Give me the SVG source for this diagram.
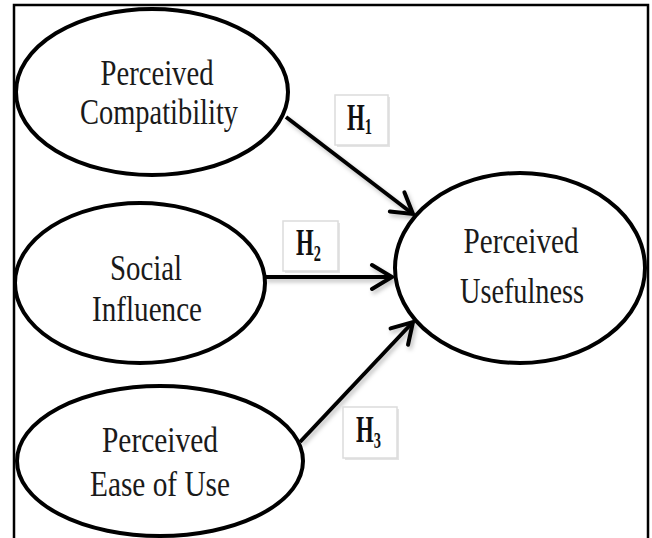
<svg xmlns="http://www.w3.org/2000/svg" width="652" height="538" viewBox="0 0 652 538">
  <style>
    .node { fill: #ffffff; stroke: #000000; stroke-width: 4; }
    .label { font-family: "Liberation Serif", "Times New Roman", serif; font-size: 35px; fill: #1a1a1a; text-anchor: middle; }
    .hyp { font-family: "Liberation Serif", "Times New Roman", serif; font-weight: bold; font-size: 38px; fill: #111111; }
    .sub { font-size: 24px; }
    .box { fill: #ffffff; stroke: #dcdcdc; stroke-width: 1.5; }
    .box-shadow { fill: #e4e4e4; }
    .edge { stroke: #000000; stroke-width: 4; fill: none; marker-end: url(#chevron); }
    .frame { fill: none; stroke: #000000; stroke-width: 2.5; }
  </style>
  <defs>
    <marker id="chevron" viewBox="0 0 26 30" refX="23" refY="15" markerWidth="26" markerHeight="30" markerUnits="userSpaceOnUse" orient="auto">
      <path d="M3,3 L23,15 L3,27" fill="none" stroke="#000000" stroke-width="4" stroke-linecap="round" stroke-linejoin="miter"/>
    </marker>
    <filter id="soft" x="-10%" y="-10%" width="130%" height="140%">
      <feDropShadow dx="2" dy="3" stdDeviation="2" flood-color="#000000" flood-opacity="0.25"/>
    </filter>
  </defs>

  <rect width="652" height="538" fill="#ffffff"/>

  <!-- outer frame, open at the bottom -->
  <path class="frame" d="M14,538 L14,5 L648,5 L648,538"/>

  <!-- hypothesis paths -->
  <g id="connectors" filter="url(#soft)">
    <line class="edge" x1="286" y1="117" x2="413" y2="214"/>
    <line class="edge" x1="264" y1="277" x2="392" y2="277"/>
    <line class="edge" x1="300" y1="442" x2="413" y2="322"/>
  </g>

  <g id="node-compatibility">
    <ellipse class="node" cx="152" cy="92" rx="136" ry="83"/>
    <text class="label" x="157" y="85" textLength="113" lengthAdjust="spacingAndGlyphs">Perceived</text>
    <text class="label" x="159" y="124" textLength="158" lengthAdjust="spacingAndGlyphs">Compatibility</text>
  </g>

  <g id="node-social">
    <ellipse class="node" cx="140" cy="283" rx="125" ry="80"/>
    <text class="label" x="146" y="280" textLength="72" lengthAdjust="spacingAndGlyphs">Social</text>
    <text class="label" x="147" y="321" textLength="110" lengthAdjust="spacingAndGlyphs">Influence</text>
  </g>

  <g id="node-ease">
    <ellipse class="node" cx="160" cy="461" rx="143" ry="75"/>
    <text class="label" x="160" y="452" textLength="116" lengthAdjust="spacingAndGlyphs">Perceived</text>
    <text class="label" x="160" y="496" textLength="140" lengthAdjust="spacingAndGlyphs">Ease of Use</text>
  </g>

  <g id="node-usefulness">
    <ellipse class="node" cx="520" cy="268" rx="125" ry="95"/>
    <text class="label" x="521" y="253" textLength="115" lengthAdjust="spacingAndGlyphs">Perceived</text>
    <text class="label" x="522" y="303" textLength="124" lengthAdjust="spacingAndGlyphs">Usefulness</text>
  </g>

  <!-- hypothesis labels -->
  <g id="label-h1">
    <rect class="box-shadow" x="337" y="97" width="53" height="50"/>
    <rect class="box" x="335" y="95" width="53" height="50"/>
    <text class="hyp" transform="translate(347,130) scale(0.6,1)">H<tspan class="sub" dy="4">1</tspan></text>
  </g>

  <g id="label-h2">
    <rect class="box-shadow" x="285" y="223" width="55" height="50"/>
    <rect class="box" x="283" y="221" width="55" height="50"/>
    <text class="hyp" transform="translate(296,255) scale(0.6,1)">H<tspan class="sub" dy="6">2</tspan></text>
  </g>

  <g id="label-h3">
    <rect class="box-shadow" x="345" y="409" width="54" height="51"/>
    <rect class="box" x="343" y="407" width="54" height="51"/>
    <text class="hyp" transform="translate(356,442) scale(0.6,1)">H<tspan class="sub" dy="6">3</tspan></text>
  </g>
</svg>
